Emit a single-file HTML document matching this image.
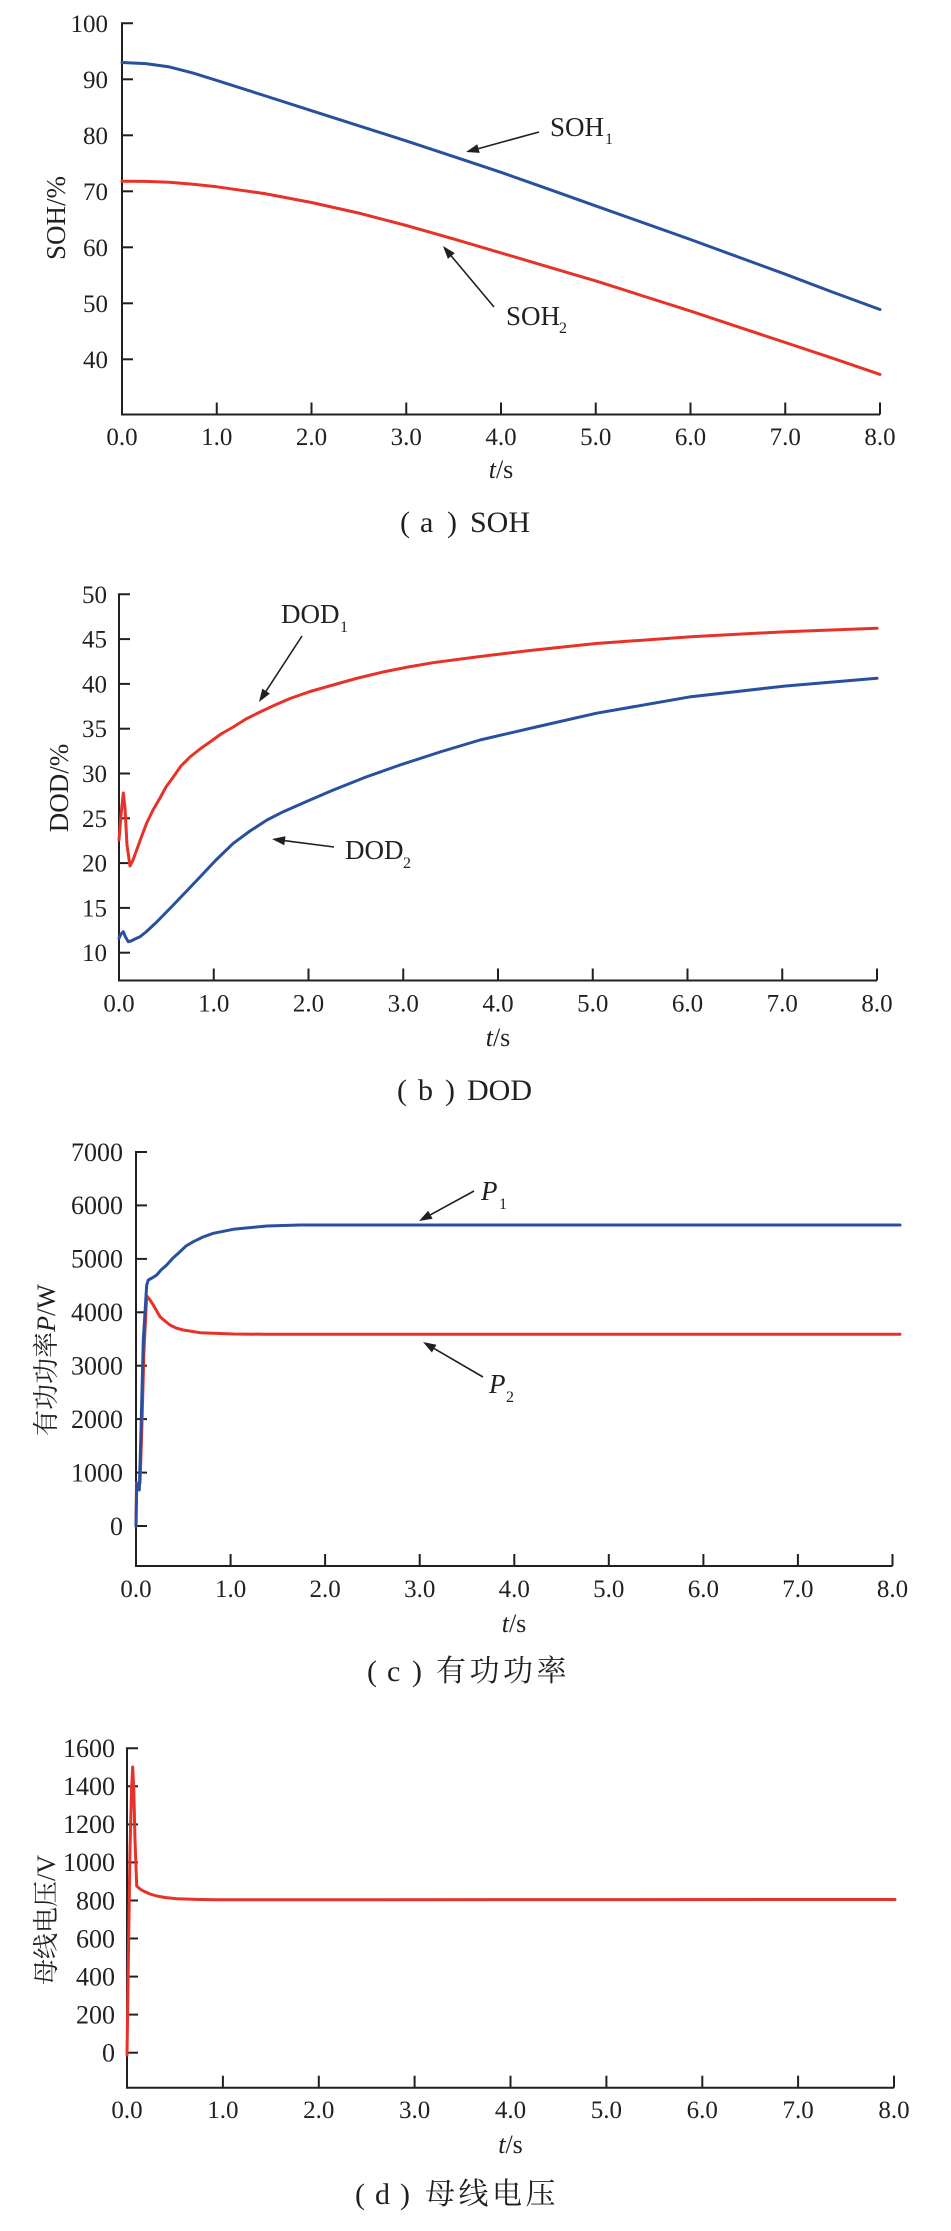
<!DOCTYPE html>
<html>
<head>
<meta charset="utf-8">
<style>
html,body{margin:0;padding:0;background:#fff;}
svg{display:block;}
text{font-family:"Liberation Serif","Noto Serif CJK SC",serif;fill:#231f20;}
.cjk{font-family:"Noto Serif CJK SC","Liberation Serif",serif;}
.ax{fill:none;stroke:#231f20;stroke-width:2;}
.tk{stroke:#231f20;stroke-width:2;}
.blue{fill:none;stroke:#2950a0;stroke-width:3;stroke-linejoin:round;stroke-linecap:round;}
.red{fill:none;stroke:#e63228;stroke-width:3;stroke-linejoin:round;stroke-linecap:round;}
.arr{stroke:#231f20;stroke-width:1.6;fill:none;}
.ah{fill:#231f20;}
.yt{font-size:25px;text-anchor:end;}
.yt2{font-size:26px;text-anchor:end;}
.xt{font-size:25px;text-anchor:middle;}
.lab{font-size:27px;}
.sub{font-size:16px;}
.cap{font-size:30px;}
</style>
</head>
<body>
<svg width="951" height="2231" viewBox="0 0 951 2231" xmlns="http://www.w3.org/2000/svg">

<!-- ================= (a) SOH ================= -->
<path class="ax" d="M133,23.3 H122 V414.5 H880"/>
<g class="tk">
<line x1="122" y1="79.3" x2="133" y2="79.3"/>
<line x1="122" y1="135.3" x2="133" y2="135.3"/>
<line x1="122" y1="191.3" x2="133" y2="191.3"/>
<line x1="122" y1="247.3" x2="133" y2="247.3"/>
<line x1="122" y1="303.3" x2="133" y2="303.3"/>
<line x1="122" y1="359.3" x2="133" y2="359.3"/>
<line x1="216.75" y1="414.5" x2="216.75" y2="402.5"/>
<line x1="311.5" y1="414.5" x2="311.5" y2="402.5"/>
<line x1="406.25" y1="414.5" x2="406.25" y2="402.5"/>
<line x1="501" y1="414.5" x2="501" y2="402.5"/>
<line x1="595.75" y1="414.5" x2="595.75" y2="402.5"/>
<line x1="690.5" y1="414.5" x2="690.5" y2="402.5"/>
<line x1="785.25" y1="414.5" x2="785.25" y2="402.5"/>
<line x1="880" y1="414.5" x2="880" y2="402.5"/>
</g>
<g class="yt">
<text x="108" y="31.8">100</text>
<text x="108" y="87.8">90</text>
<text x="108" y="143.8">80</text>
<text x="108" y="199.8">70</text>
<text x="108" y="255.8">60</text>
<text x="108" y="311.8">50</text>
<text x="108" y="367.8">40</text>
</g>
<g class="xt">
<text x="122" y="445">0.0</text>
<text x="216.75" y="445">1.0</text>
<text x="311.5" y="445">2.0</text>
<text x="406.25" y="445">3.0</text>
<text x="501" y="445">4.0</text>
<text x="595.75" y="445">5.0</text>
<text x="690.5" y="445">6.0</text>
<text x="785.25" y="445">7.0</text>
<text x="880" y="445">8.0</text>
</g>
<text x="501" y="478" font-size="26" text-anchor="middle"><tspan font-style="italic">t</tspan>/s</text>
<text transform="translate(65,218) rotate(-90)" font-size="27" text-anchor="middle">SOH/%</text>

<polyline class="blue" points="122,62.5 145.7,63.6 169.4,66.9 193.1,73.1 216.8,80.4 264.1,95.5 311.5,110.7 358.9,125.8 406.3,140.9 453.6,156.6 501,172.3 548.4,189.1 595.8,205.9 643.1,222.7 690.5,239.5 737.9,256.9 785.3,274.2 832.6,292.1 880,309.5"/>
<polyline class="red" points="122,181.2 145.7,181.4 169.4,182.3 193.1,184.2 216.8,186.8 264.1,193.5 311.5,202.5 358.9,213.1 406.3,225.5 453.6,238.9 501,252.9 548.4,266.9 595.8,280.9 643.1,296 690.5,311.1 737.9,326.8 785.3,342.5 832.6,358.2 880,374.4"/>

<line class="arr" x1="539" y1="132" x2="478.5" y2="148.6"/>
<polygon class="ah" points="466,152 477.3,144.3 479.7,152.9"/>
<line class="arr" x1="494" y1="307" x2="451.3" y2="256"/>
<polygon class="ah" points="443,246 454.8,253.1 447.9,258.9"/>
<text class="lab" x="550" y="136">SOH</text><text class="sub" x="605" y="144">1</text>
<text class="lab" x="506" y="325">SOH</text><text class="sub" x="559" y="333">2</text>

<g class="cap">
<text x="400" y="532">(</text>
<text x="420" y="532">a</text>
<text x="447" y="532">)</text>
<text x="470" y="532">SOH</text>
</g>

<!-- ================= (b) DOD ================= -->
<path class="ax" d="M130,594.3 H119 V980.5 H877"/>
<g class="tk">
<line x1="119" y1="639.1" x2="130" y2="639.1"/>
<line x1="119" y1="683.9" x2="130" y2="683.9"/>
<line x1="119" y1="728.7" x2="130" y2="728.7"/>
<line x1="119" y1="773.5" x2="130" y2="773.5"/>
<line x1="119" y1="818.3" x2="130" y2="818.3"/>
<line x1="119" y1="863.1" x2="130" y2="863.1"/>
<line x1="119" y1="907.9" x2="130" y2="907.9"/>
<line x1="119" y1="952.7" x2="130" y2="952.7"/>
<line x1="213.75" y1="980.5" x2="213.75" y2="968.5"/>
<line x1="308.5" y1="980.5" x2="308.5" y2="968.5"/>
<line x1="403.25" y1="980.5" x2="403.25" y2="968.5"/>
<line x1="498" y1="980.5" x2="498" y2="968.5"/>
<line x1="592.75" y1="980.5" x2="592.75" y2="968.5"/>
<line x1="687.5" y1="980.5" x2="687.5" y2="968.5"/>
<line x1="782.25" y1="980.5" x2="782.25" y2="968.5"/>
<line x1="877" y1="980.5" x2="877" y2="968.5"/>
</g>
<g class="yt">
<text x="107" y="602.8">50</text>
<text x="107" y="647.6">45</text>
<text x="107" y="692.4">40</text>
<text x="107" y="737.2">35</text>
<text x="107" y="782">30</text>
<text x="107" y="826.8">25</text>
<text x="107" y="871.6">20</text>
<text x="107" y="916.4">15</text>
<text x="107" y="961.2">10</text>
</g>
<g class="xt">
<text x="119" y="1011.7">0.0</text>
<text x="213.75" y="1011.7">1.0</text>
<text x="308.5" y="1011.7">2.0</text>
<text x="403.25" y="1011.7">3.0</text>
<text x="498" y="1011.7">4.0</text>
<text x="592.75" y="1011.7">5.0</text>
<text x="687.5" y="1011.7">6.0</text>
<text x="782.25" y="1011.7">7.0</text>
<text x="877" y="1011.7">8.0</text>
</g>
<text x="498" y="1046" font-size="26" text-anchor="middle"><tspan font-style="italic">t</tspan>/s</text>
<text transform="translate(68,788) rotate(-90)" font-size="27" text-anchor="middle">DOD/%</text>

<polyline class="red" points="119,840 121,815 123.3,793 125,808 127,845 130,866 133,860 136.7,850 141,838 146.7,823 153,810 160,798 166,787 173.3,777 181,766 190,757 200,749 210,742 221,734 233.3,727 246,719 260,712 275,705 290,698.5 310,691.5 333,685 358,678 383,672 408,667 433,662.7 480,656.5 530,650.5 596,643.5 691,636.7 785.7,631.7 877,628.3"/>
<polyline class="blue" points="119,938.3 121,934 123.3,931.7 125.5,937 128.3,941.7 131,941 135,939 140,936.7 146,932 156.7,922 173.3,905 186.7,891 200,877 216,860 233.3,843.3 250,831 267,820 283.3,811.7 310,800 333.3,790 366,777 400,765 440,752 480,740 536,727 596,713.3 691,696.7 785.7,686 877,678.3"/>

<line class="arr" x1="302" y1="636" x2="266.1" y2="691.1"/>
<polygon class="ah" points="259,702 262.3,688.6 269.9,693.6"/>
<line class="arr" x1="334" y1="847" x2="284.9" y2="840.7"/>
<polygon class="ah" points="272,839 285.5,836.2 284.3,845.2"/>
<text class="lab" x="281" y="623">DOD</text><text class="sub" x="340" y="632">1</text>
<text class="lab" x="345" y="859">DOD</text><text class="sub" x="403" y="868">2</text>

<g class="cap">
<text x="397" y="1100">(</text>
<text x="418" y="1100">b</text>
<text x="445" y="1100">)</text>
<text x="467" y="1100">DOD</text>
</g>

<!-- ================= (c) Active power ================= -->
<path class="ax" d="M147,1152 H136 V1566 H892.5"/>
<g class="tk">
<line x1="136" y1="1205.4" x2="147" y2="1205.4"/>
<line x1="136" y1="1258.9" x2="147" y2="1258.9"/>
<line x1="136" y1="1312.3" x2="147" y2="1312.3"/>
<line x1="136" y1="1365.7" x2="147" y2="1365.7"/>
<line x1="136" y1="1419.1" x2="147" y2="1419.1"/>
<line x1="136" y1="1472.6" x2="147" y2="1472.6"/>
<line x1="136" y1="1526" x2="147" y2="1526"/>
<line x1="230.6" y1="1566" x2="230.6" y2="1554"/>
<line x1="325.1" y1="1566" x2="325.1" y2="1554"/>
<line x1="419.7" y1="1566" x2="419.7" y2="1554"/>
<line x1="514.3" y1="1566" x2="514.3" y2="1554"/>
<line x1="608.8" y1="1566" x2="608.8" y2="1554"/>
<line x1="703.4" y1="1566" x2="703.4" y2="1554"/>
<line x1="797.9" y1="1566" x2="797.9" y2="1554"/>
<line x1="892.5" y1="1566" x2="892.5" y2="1554"/>
</g>
<g class="yt2">
<text x="123" y="1160.8">7000</text>
<text x="123" y="1214.2">6000</text>
<text x="123" y="1267.7">5000</text>
<text x="123" y="1321.1">4000</text>
<text x="123" y="1374.5">3000</text>
<text x="123" y="1427.9">2000</text>
<text x="123" y="1481.4">1000</text>
<text x="123" y="1534.8">0</text>
</g>
<g class="xt">
<text x="136" y="1597">0.0</text>
<text x="230.6" y="1597">1.0</text>
<text x="325.1" y="1597">2.0</text>
<text x="419.7" y="1597">3.0</text>
<text x="514.3" y="1597">4.0</text>
<text x="608.8" y="1597">5.0</text>
<text x="703.4" y="1597">6.0</text>
<text x="797.9" y="1597">7.0</text>
<text x="892.5" y="1597">8.0</text>
</g>
<text x="514" y="1632" font-size="26" text-anchor="middle"><tspan font-style="italic">t</tspan>/s</text>
<text transform="translate(55,1360) rotate(-90)" font-size="26" text-anchor="middle"><tspan class="cjk">有功功率</tspan><tspan font-style="italic">P</tspan>/W</text>

<polyline class="red" points="136,1526 136.5,1483 140,1483 141.5,1440 144,1350 146.7,1296 150,1300 153.3,1305 156.7,1311 160,1316.7 165,1321 170,1325 176,1328 183.3,1330 200,1332.7 233.3,1334 266.7,1334.3 900,1334.3"/>
<polyline class="blue" points="136,1526 136.7,1484 139.3,1490 141,1430 143.3,1340 146.7,1285 148.3,1280 152,1278 156.7,1275 161,1270 166.7,1265 173,1258 180,1251.7 186,1246 193.3,1241.7 203,1237 213.3,1233.3 233.3,1229.3 266.7,1226 300,1225 900,1225"/>

<line class="arr" x1="474" y1="1191" x2="430.4" y2="1214.8"/>
<polygon class="ah" points="419,1221 428.2,1210.8 432.6,1218.8"/>
<line class="arr" x1="483" y1="1377" x2="434.2" y2="1348.6"/>
<polygon class="ah" points="423,1342 436.5,1344.7 431.9,1352.5"/>
<text class="lab" x="481" y="1200" font-style="italic">P</text><text class="sub" x="499" y="1209">1</text>
<text class="lab" x="489" y="1393" font-style="italic">P</text><text class="sub" x="506" y="1402">2</text>

<g class="cap">
<text x="367" y="1681">(</text>
<text x="387" y="1681">c</text>
<text x="412" y="1681">)</text>
<text class="cjk" x="436" y="1681" letter-spacing="3.5">有功功率</text>
</g>

<!-- ================= (d) Bus voltage ================= -->
<path class="ax" d="M138,1748.2 H127 V2087.7 H894"/>
<g class="tk">
<line x1="127" y1="1786.3" x2="138" y2="1786.3"/>
<line x1="127" y1="1824.4" x2="138" y2="1824.4"/>
<line x1="127" y1="1862.4" x2="138" y2="1862.4"/>
<line x1="127" y1="1900.5" x2="138" y2="1900.5"/>
<line x1="127" y1="1938.5" x2="138" y2="1938.5"/>
<line x1="127" y1="1976.6" x2="138" y2="1976.6"/>
<line x1="127" y1="2014.6" x2="138" y2="2014.6"/>
<line x1="127" y1="2052.7" x2="138" y2="2052.7"/>
<line x1="222.9" y1="2087.7" x2="222.9" y2="2075.7"/>
<line x1="318.8" y1="2087.7" x2="318.8" y2="2075.7"/>
<line x1="414.6" y1="2087.7" x2="414.6" y2="2075.7"/>
<line x1="510.5" y1="2087.7" x2="510.5" y2="2075.7"/>
<line x1="606.4" y1="2087.7" x2="606.4" y2="2075.7"/>
<line x1="702.3" y1="2087.7" x2="702.3" y2="2075.7"/>
<line x1="798.1" y1="2087.7" x2="798.1" y2="2075.7"/>
<line x1="894" y1="2087.7" x2="894" y2="2075.7"/>
</g>
<g class="yt2">
<text x="115" y="1757">1600</text>
<text x="115" y="1795.1">1400</text>
<text x="115" y="1833.2">1200</text>
<text x="115" y="1871.2">1000</text>
<text x="115" y="1909.3">800</text>
<text x="115" y="1947.3">600</text>
<text x="115" y="1985.4">400</text>
<text x="115" y="2023.4">200</text>
<text x="115" y="2061.5">0</text>
</g>
<g class="xt">
<text x="127" y="2118">0.0</text>
<text x="222.9" y="2118">1.0</text>
<text x="318.8" y="2118">2.0</text>
<text x="414.6" y="2118">3.0</text>
<text x="510.5" y="2118">4.0</text>
<text x="606.4" y="2118">5.0</text>
<text x="702.3" y="2118">6.0</text>
<text x="798.1" y="2118">7.0</text>
<text x="894" y="2118">8.0</text>
</g>
<text x="510.5" y="2153" font-size="26" text-anchor="middle"><tspan font-style="italic">t</tspan>/s</text>
<text transform="translate(55,1920) rotate(-90)" font-size="26" text-anchor="middle"><tspan class="cjk">母线电压</tspan>/V</text>

<polyline class="red" points="127,2055 128.5,1950 130,1850 131.5,1790 132.7,1767 133.8,1790 135,1840 136.7,1886 140,1889 143.3,1891 150,1894 156.7,1896 165,1897.5 176.7,1898.7 200,1899.5 216.7,1899.8 895,1899.5"/>

<g class="cap">
<text x="355" y="2204">(</text>
<text x="375" y="2204">d</text>
<text x="400" y="2204">)</text>
<text class="cjk" x="425" y="2204" letter-spacing="3.5">母线电压</text>
</g>

</svg>
</body>
</html>
